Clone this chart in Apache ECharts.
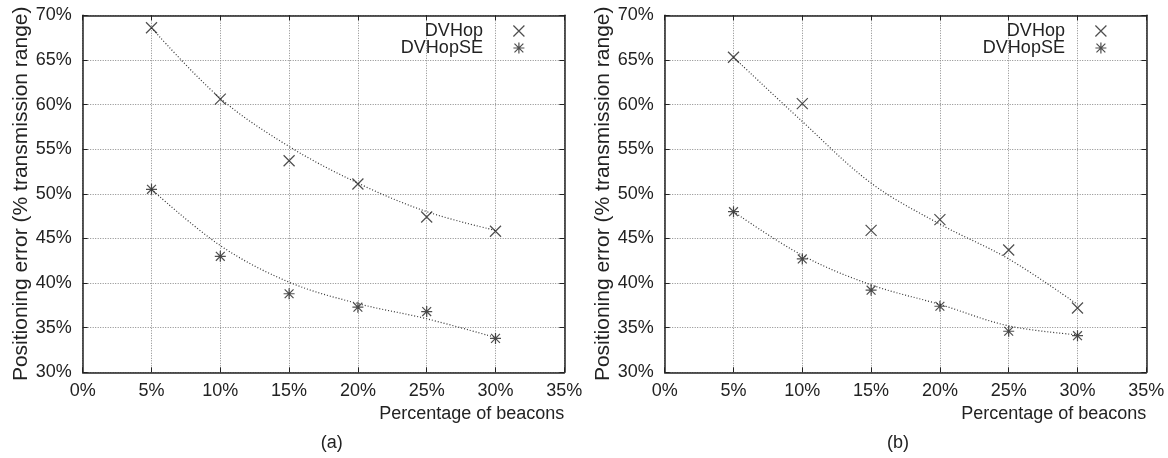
<!DOCTYPE html>
<html>
<head>
<meta charset="utf-8">
<script src="https://cdn.jsdelivr.net/npm/echarts@6/dist/echarts.min.js"></script>
<style>
html,body{margin:0;padding:0;background:#fff;}
#chart{width:1168px;height:458px;}
</style>
</head>
<body>
<div id="chart"></div>
<script>
// ---- data ----
var beacons = [5, 10, 15, 20, 25, 30];           // Percentage of beacons (%)
var xTicks = [0, 5, 10, 15, 20, 25, 30, 35];
var yTicks = [30, 35, 40, 45, 50, 55, 60, 65, 70];

// panel (a)
var aDVHop      = [68.6, 60.6, 53.7, 51.1, 47.4, 45.8];
var aDVHopSE    = [50.5, 43.0, 38.8, 37.3, 36.8, 33.8];
var aDVHopFit   = [68.6, 60.7, 55.3, 51.2, 48.0, 45.9];
var aDVHopSEFit = [50.5, 44.2, 40.1, 37.7, 36.0, 33.9];

// panel (b)
var bDVHop      = [65.3, 60.1, 45.9, 47.1, 43.7, 37.2];
var bDVHopSE    = [48.0, 42.7, 39.2, 37.4, 34.6, 34.1];
var bDVHopFit   = [65.3, 58.1, 51.2, 46.6, 42.7, 37.6];
var bDVHopSEFit = [48.0, 43.1, 39.8, 37.6, 35.2, 34.2];

var seriesNames = ['DVHop', 'DVHopSE'];
var captions = ['(a)', '(b)'];
var xName = 'Percentage of beacons';
var yName = 'Positioning error (% transmission range)';

// ---- styling ----
var FONT = '"Liberation Sans", Arial, Helvetica, sans-serif';
var TXT = '#222';
var CROSS = 'path://M0,0L10,10M10,0L0,10';
var STAR = 'path://M0,0L10,10M10,0L0,10M5,-1.2L5,11.2M-1.2,5L11.2,5';

function pairs(xs, ys) { return xs.map(function (x, i) { return [x, ys[i]]; }); }

var grids = [
  {left: 82.7, right: 1168 - 564.3, top: 15.3, bottom: 458 - 372.3},
  {left: 664.7, right: 1168 - 1146.3, top: 15.3, bottom: 458 - 372.3}
];

var xAxes = [], yAxes = [], series = [], legends = [], graphics = [];
var panelData = [
  [aDVHop, aDVHopSE, aDVHopFit, aDVHopSEFit],
  [bDVHop, bDVHopSE, bDVHopFit, bDVHopSEFit]
];
var captionX = [331.7, 898];

grids.forEach(function (g, gi) {
  var axLine = {show: true, onZero: false, lineStyle: {color: '#222', width: 1.5}};
  var tick = {show: true, inside: true, length: 5, lineStyle: {color: '#222', width: 1}};
  // bottom x
  xAxes.push({
    type: 'value', gridIndex: gi, position: 'bottom',
    min: xTicks[0], max: xTicks[xTicks.length - 1], interval: 5,
    axisLine: axLine, axisTick: tick,
    axisLabel: {formatter: '{value}%', fontSize: 18, fontFamily: FONT, color: TXT, margin: 10},
    splitLine: {show: true, lineStyle: {color: '#8a8a8a', width: 1, type: [1, 1.5]}},
    name: xName, nameLocation: 'end', nameGap: 0,
    nameTextStyle: {fontSize: 18, fontFamily: FONT, color: TXT, align: 'right', verticalAlign: 'top', padding: [33, 0, 0, 0]}
  });
  // top mirror
  xAxes.push({
    type: 'value', gridIndex: gi, position: 'top',
    min: xTicks[0], max: xTicks[xTicks.length - 1], interval: 5,
    axisLine: axLine, axisTick: tick, axisLabel: {show: false}, splitLine: {show: false}
  });
  // left y
  yAxes.push({
    type: 'value', gridIndex: gi, position: 'left',
    min: yTicks[0], max: yTicks[yTicks.length - 1], interval: 5,
    axisLine: axLine, axisTick: tick,
    axisLabel: {formatter: '{value}%', fontSize: 18, fontFamily: FONT, color: TXT, margin: 11},
    splitLine: {show: true, lineStyle: {color: '#8a8a8a', width: 1, type: [1, 1.5]}},
    name: yName, nameLocation: 'middle', nameGap: 49,
    nameTextStyle: {fontSize: 21, fontFamily: FONT, color: TXT}
  });
  // right mirror
  yAxes.push({
    type: 'value', gridIndex: gi, position: 'right',
    min: yTicks[0], max: yTicks[yTicks.length - 1], interval: 5,
    axisLine: axLine, axisTick: tick, axisLabel: {show: false}, splitLine: {show: false}
  });

  var d = panelData[gi];
  var xi = gi * 2, yi = gi * 2;
  var fitStyle = {color: '#333', width: 1.2, type: [1, 2]};
  series.push({
    type: 'line', name: 'fit-' + seriesNames[0], xAxisIndex: xi, yAxisIndex: yi,
    data: pairs(beacons, d[2]), smooth: 0.35, showSymbol: false, symbol: 'none',
    lineStyle: fitStyle, silent: true, z: 2
  });
  series.push({
    type: 'line', name: 'fit-' + seriesNames[1], xAxisIndex: xi, yAxisIndex: yi,
    data: pairs(beacons, d[3]), smooth: 0.35, showSymbol: false, symbol: 'none',
    lineStyle: fitStyle, silent: true, z: 2
  });
  series.push({
    type: 'scatter', name: seriesNames[0], xAxisIndex: xi, yAxisIndex: yi,
    data: pairs(beacons, d[0]), symbol: CROSS, symbolSize: 11,
    itemStyle: {color: 'rgba(0,0,0,0)', borderColor: '#222', borderWidth: 1.2}, z: 3
  });
  series.push({
    type: 'scatter', name: seriesNames[1], xAxisIndex: xi, yAxisIndex: yi,
    data: pairs(beacons, d[1]), symbol: STAR, symbolSize: 11,
    itemStyle: {color: 'rgba(0,0,0,0)', borderColor: '#222', borderWidth: 1.2}, z: 3
  });

  var legendRight = gi === 0 ? 643 : 61;
  [0, 1].forEach(function (k) {
    legends.push({
      orient: 'vertical', align: 'right', padding: 0,
      right: legendRight, top: k === 0 ? 22 : 39,
      itemWidth: 62, itemHeight: 11, itemGap: 0,
      data: [{name: seriesNames[k], icon: k === 0 ? CROSS : STAR}],
      itemStyle: {color: 'rgba(0,0,0,0)', borderColor: '#222', borderWidth: 1.2},
      textStyle: {fontSize: 18, fontFamily: FONT, color: TXT},
      selectedMode: false
    });
  });

  graphics.push({
    type: 'text', x: captionX[gi], y: 443,
    style: {text: captions[gi], font: '18px ' + FONT, fill: TXT, textAlign: 'center', textVerticalAlign: 'middle'}
  });
});

var chart = echarts.init(document.getElementById('chart'), null, {renderer: 'canvas'});
chart.setOption({
  animation: false,
  backgroundColor: '#fff',
  grid: grids,
  xAxis: xAxes,
  yAxis: yAxes,
  legend: legends,
  series: series,
  graphic: graphics
});
</script>
</body>
</html>
